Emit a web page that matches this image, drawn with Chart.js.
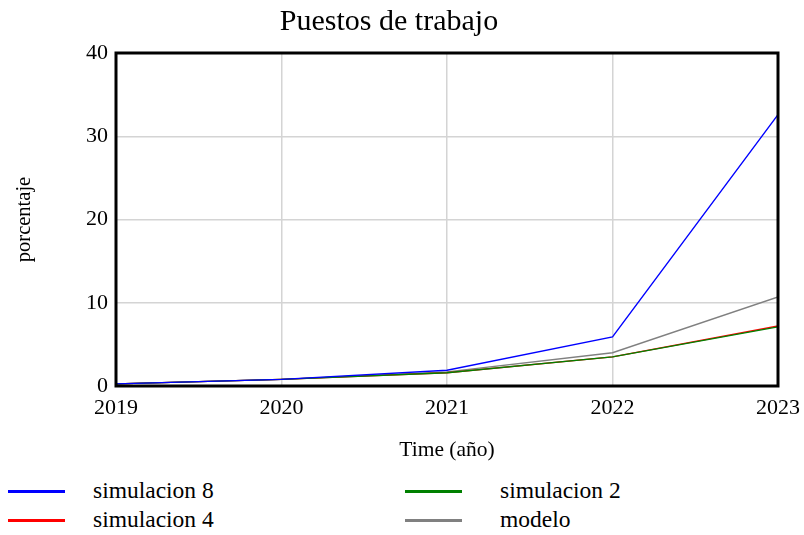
<!DOCTYPE html>
<html>
<head>
<meta charset="utf-8">
<script src="https://cdn.jsdelivr.net/npm/chart.js@4/dist/chart.umd.min.js"></script>
<style>
  html, body { margin: 0; padding: 0; background: #fff; }
  #wrap { position: relative; width: 804px; height: 535px; }
  #chart { position: absolute; left: 0; top: 0; }
  .leg { position: absolute; font-family: "Liberation Serif", "Times New Roman", serif; font-size: 23.5px; color: #000; }
</style>
</head>
<body>
<div id="wrap">
  <canvas id="chart" width="804" height="470"></canvas>
  <div id="legend"></div>
</div>
<script>
// Years on the time axis
const years = [2019, 2020, 2021, 2022, 2023];
// Series values (porcentaje)
const simulacion8 = [0.25, 0.8, 1.9, 5.9, 32.6];
const simulacion4 = [0.25, 0.8, 1.6, 3.5, 7.2];
const simulacion2 = [0.25, 0.8, 1.6, 3.5, 7.1];
const modelo      = [0.25, 0.8, 1.7, 4.0, 10.7];
const yTicks = [0, 10, 20, 30, 40];

const serif = '"Liberation Serif", "Times New Roman", serif';

const series = [
  { label: 'simulacion 8', data: simulacion8, color: '#0000ff' },
  { label: 'simulacion 4', data: simulacion4, color: '#ff0000' },
  { label: 'simulacion 2', data: simulacion2, color: '#008000' },
  { label: 'modelo',       data: modelo,      color: '#808080' }
];

// Draw order: modelo, simulacion 4, simulacion 2, then simulacion 8 on top
const drawOrder = { 'simulacion 8': 0, 'simulacion 2': 1, 'simulacion 4': 2, 'modelo': 3 };

const datasets = series.map(s => ({
  label: s.label,
  data: years.map((x, i) => ({ x: x, y: s.data[i] })),
  borderColor: s.color,
  backgroundColor: s.color,
  borderWidth: 1.4,
  pointRadius: 0,
  tension: 0,
  order: drawOrder[s.label]
}));

// Heavy black frame around the plotting area
const framePlugin = {
  id: 'frame',
  afterDatasetsDraw(chart) {
    const a = chart.chartArea;
    const ctx = chart.ctx;
    ctx.save();
    ctx.strokeStyle = '#000';
    ctx.lineWidth = 3;
    ctx.strokeRect(a.left, a.top, a.right - a.left, a.bottom - a.top);
    ctx.restore();
  }
};

new Chart(document.getElementById('chart'), {
  type: 'line',
  data: { datasets: datasets },
  options: {
    responsive: false,
    animation: false,
    layout: { padding: { left: 0, right: 26, top: 0, bottom: 0 } },
    plugins: {
      legend: { display: false },
      tooltip: { enabled: false },
      title: {
        display: true,
        text: 'Puestos de trabajo',
        color: '#000',
        font: { family: serif, size: 30, weight: 'normal', lineHeight: 1.2 },
        padding: { top: 4, bottom: 13 }
      }
    },
    scales: {
      x: {
        type: 'linear',
        min: 2019,
        max: 2023,
        afterFit(s) { s.height = 84; s.paddingLeft = 0; s.paddingRight = 0; },
        afterBuildTicks(s) { s.ticks = years.map(v => ({ value: v })); },
        ticks: {
          color: '#000',
          font: { family: serif, size: 22 },
          padding: 9,
          maxRotation: 0,
          callback: v => String(v)
        },
        grid: { color: '#d4d4d4', lineWidth: 1.5, drawTicks: false },
        border: { display: false },
        title: {
          display: true,
          text: 'Time (año)',
          color: '#000',
          font: { family: serif, size: 21.5 },
          padding: { top: 5, bottom: 7 }
        }
      },
      y: {
        min: 0,
        max: 40,
        afterFit(s) { s.width = 116; },
        afterBuildTicks(s) { s.ticks = yTicks.map(v => ({ value: v })); },
        ticks: {
          color: '#000',
          font: { family: serif, size: 22 },
          padding: 8
        },
        grid: { color: '#d4d4d4', lineWidth: 1.5, drawTicks: false },
        border: { display: false },
        title: {
          display: true,
          text: 'porcentaje',
          color: '#000',
          font: { family: serif, size: 20.5 },
          padding: { top: 12, bottom: 0 }
        }
      }
    }
  },
  plugins: [framePlugin]
});

// Two-column legend below the chart
const legendPos = [
  { label: 'simulacion 8', line: 8,   text: 93,  top: 491 },
  { label: 'simulacion 4', line: 8,   text: 93,  top: 520 },
  { label: 'simulacion 2', line: 405, text: 500, top: 491 },
  { label: 'modelo',       line: 405, text: 500, top: 520 }
];
const legendEl = document.getElementById('legend');
legendPos.forEach(p => {
  const s = series.find(d => d.label === p.label);
  const sw = document.createElement('div');
  sw.className = 'leg';
  sw.style.left = p.line + 'px';
  sw.style.top = (p.top - 1) + 'px';
  sw.style.width = '57px';
  sw.style.height = '3px';
  sw.style.background = s.color;
  const tx = document.createElement('div');
  tx.className = 'leg';
  tx.style.left = p.text + 'px';
  tx.style.top = (p.top - 13) + 'px';
  tx.style.lineHeight = '24px';
  tx.style.whiteSpace = 'nowrap';
  tx.textContent = s.label;
  legendEl.appendChild(sw);
  legendEl.appendChild(tx);
});
</script>
</body>
</html>
